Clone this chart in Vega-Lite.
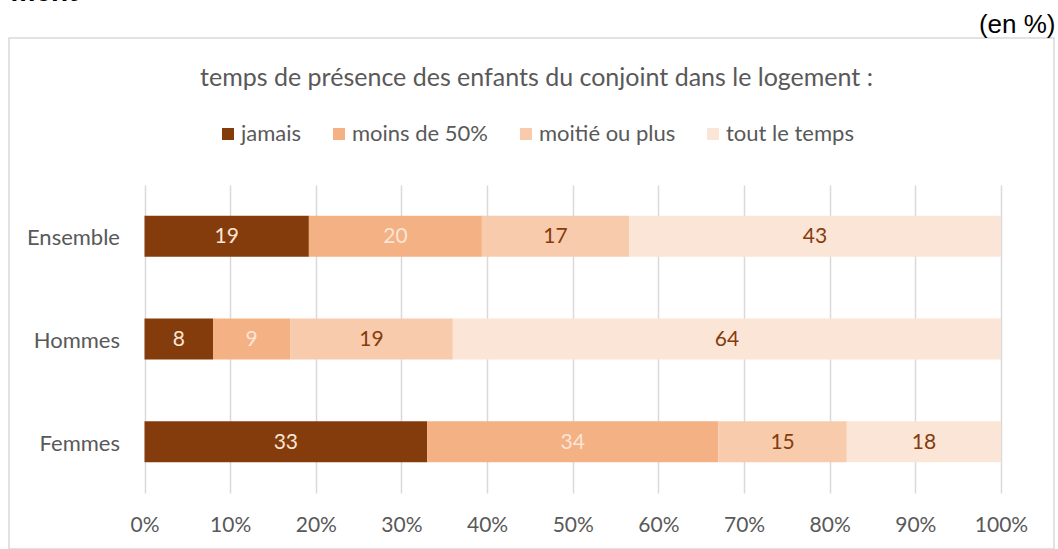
{
  "$schema": "https://vega.github.io/schema/vega-lite/v6.json",
  "width": 1045,
  "height": 511,
  "autosize": {"type": "none"},
  "padding": {"left": 9, "top": 38, "right": 4, "bottom": 0},
  "background": "white",
  "config": {
    "view": {"stroke": "#D9D9D9", "strokeWidth": 1.5},
    "font": "Lato"
  },
  "title": {
    "text": "temps de présence des enfants du conjoint dans le logement :",
    "anchor": "middle",
    "frame": "group",
    "font": "Lato",
    "fontSize": 25,
    "fontWeight": "normal",
    "color": "#595959",
    "offset": -113,
    "dx": 5
  },
  "data": {
    "values": [
      {"groupe": "Ensemble", "serie": "jamais", "k": 1, "v": 19},
      {"groupe": "Ensemble", "serie": "moins de 50%", "k": 2, "v": 20},
      {"groupe": "Ensemble", "serie": "moitié ou plus", "k": 3, "v": 17},
      {"groupe": "Ensemble", "serie": "tout le temps", "k": 4, "v": 43},
      {"groupe": "Hommes", "serie": "jamais", "k": 1, "v": 8},
      {"groupe": "Hommes", "serie": "moins de 50%", "k": 2, "v": 9},
      {"groupe": "Hommes", "serie": "moitié ou plus", "k": 3, "v": 19},
      {"groupe": "Hommes", "serie": "tout le temps", "k": 4, "v": 64},
      {"groupe": "Femmes", "serie": "jamais", "k": 1, "v": 33},
      {"groupe": "Femmes", "serie": "moins de 50%", "k": 2, "v": 34},
      {"groupe": "Femmes", "serie": "moitié ou plus", "k": 3, "v": 15},
      {"groupe": "Femmes", "serie": "tout le temps", "k": 4, "v": 18}
    ]
  },
  "transform": [
    {"stack": "v", "groupby": ["groupe"], "sort": [{"field": "k", "order": "ascending"}], "offset": "normalize", "as": ["debut", "fin"]}
  ],
  "layer": [
    {
      "mark": {"type": "bar"},
      "encoding": {
        "y": {
          "field": "groupe", "type": "nominal",
          "sort": ["Ensemble", "Hommes", "Femmes"],
          "scale": {"range": [147, 455], "paddingInner": 0.6, "paddingOuter": 0.3},
          "axis": {
            "orient": "left", "offset": -135.5, "domain": false, "ticks": false, "tickSize": 0,
            "labelPadding": 25, "labelOffset": 2, "labelFont": "Lato", "labelFontSize": 22, "labelColor": "#595959",
            "grid": false,
            "title": "(en %)", "titleAngle": 0, "titleX": 910.5, "titleY": -6,
            "titleAlign": "right", "titleBaseline": "alphabetic",
            "titleFont": "Liberation Sans", "titleFontSize": 26, "titleFontWeight": "normal", "titleColor": "black"
          }
        },
        "x": {
          "field": "debut", "type": "quantitative",
          "scale": {"domain": [0, 1], "range": [135.5, 992], "nice": false, "zero": false},
          "axis": {
            "orient": "top", "offset": -505,
            "values": [0, 0.1, 0.2, 0.3, 0.4, 0.5, 0.6, 0.7, 0.8, 0.9, 1],
            "format": ".0%", "domain": false, "ticks": false, "tickSize": 0,
            "labelPadding": 8, "labelFont": "Lato", "labelFontSize": 21, "labelColor": "#595959",
            "labelFlush": false, "labelOverlap": false,
            "grid": true, "gridColor": "#D9D9D9", "gridWidth": 1.5,
            "title": "ment", "titleX": 1, "titleY": -543, "titleAlign": "left", "titleBaseline": "alphabetic",
            "titleFont": "Liberation Sans", "titleFontSize": 28, "titleFontWeight": "bold", "titleColor": "black"
          }
        },
        "x2": {"field": "fin"},
        "color": {
          "field": "serie", "type": "nominal",
          "sort": ["jamais", "moins de 50%", "moitié ou plus", "tout le temps"],
          "scale": {
            "domain": ["jamais", "moins de 50%", "moitié ou plus", "tout le temps"],
            "range": ["#843C0C", "#F4B183", "#F8CBAD", "#FBE5D6"]
          },
          "legend": {
            "orient": "none", "legendX": 208, "legendY": 85, "direction": "horizontal",
            "title": null, "symbolType": "square", "symbolSize": 144, "symbolStrokeWidth": 0,
            "symbolOpacity": 1,
            "labelFont": "Lato", "labelFontSize": 22, "labelColor": "#595959",
            "labelOffset": 2, "columnPadding": 26, "padding": 0
          }
        }
      }
    },
    {
      "transform": [
        {"fold": ["debut", "fin"], "as": ["bord", "pos"]},
        {"aggregate": [{"op": "mean", "field": "pos", "as": "milieu"}], "groupby": ["groupe", "serie", "v", "k"]}
      ],
      "mark": {"type": "text", "font": "Lato", "fontSize": 21, "baseline": "middle", "dy": 1},
      "encoding": {
        "y": {"field": "groupe", "type": "nominal", "sort": ["Ensemble", "Hommes", "Femmes"]},
        "x": {"field": "milieu", "type": "quantitative"},
        "text": {"field": "v", "type": "quantitative"},
        "color": {"condition": {"test": "datum.k <= 2", "value": "#FBE5D6"}, "value": "#843C0C"}
      }
    }
  ]
}
